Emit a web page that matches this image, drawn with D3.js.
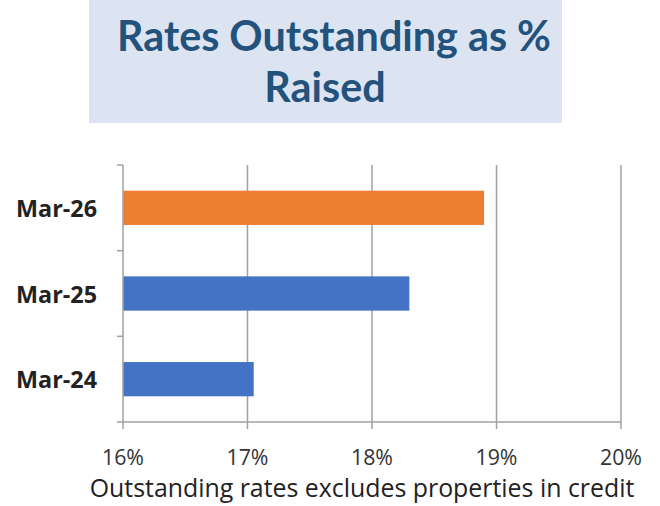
<!DOCTYPE html>
<html><head><meta charset="utf-8">
<script src="https://cdn.jsdelivr.net/npm/d3@7"></script>
<style>body{margin:0;background:#fff}</style>
</head><body>
<svg id="c" width="660" height="506"></svg>
<script>
const categories = ["Mar-26", "Mar-25", "Mar-24"];
const values = [18.9, 18.3, 17.05];
const barColors = ["#ed7d31", "#4472c4", "#4472c4"];
const xTicks = [16, 17, 18, 19, 20];
const titleLines = ["Rates Outstanding as %", "Raised"];
const footnote = "Outstanding rates excludes properties in credit";

const svg = d3.select("#c");
const font = "'Open Sans', Lato, sans-serif";
const titleFont = "Lato, 'Open Sans', sans-serif";
const m = {left: 123, right: 621, top: 165, bottom: 422};

// fit font size of a text element to a target width
function fit(sel, target) {
  sel.each(function() {
    const w = this.getComputedTextLength();
    const fs = parseFloat(this.getAttribute("font-size"));
    this.setAttribute("font-size", (fs * target / w).toFixed(2));
  });
}

// title box
svg.append("rect").attr("x", 89).attr("y", 0).attr("width", 473).attr("height", 123).attr("fill", "#dce4f2");
const t = svg.selectAll("text.title").data(titleLines).join("text")
  .attr("class", "title")
  .attr("x", 334).attr("y", (d, i) => 51 + i * 51)
  .attr("text-anchor", "middle")
  .attr("font-family", titleFont).attr("font-weight", "bold").attr("font-size", 38)
  .attr("fill", "#23527c").text(d => d);
fit(t.filter((d, i) => i === 0), 434);
t.filter((d, i) => i === 1).attr("font-size", t.filter((d, i) => i === 0).attr("font-size")).attr("x", 325);

const x = d3.scaleLinear().domain([16, 20]).range([m.left, m.right]);
const y = d3.scaleBand().domain(categories).range([m.top, m.bottom]).paddingInner(0.6).paddingOuter(0.3);
const yb = d3.scaleBand().domain(categories).range([m.top, m.bottom]);

// gridlines
svg.append("g").selectAll("line").data(xTicks.slice(1)).join("line")
  .attr("x1", d => x(d)).attr("x2", d => x(d))
  .attr("y1", m.top).attr("y2", m.bottom)
  .attr("stroke", "#a0a0a0").attr("stroke-width", 1.5);

// bars
svg.append("g").selectAll("rect").data(categories).join("rect")
  .attr("x", x(16)).attr("y", d => y(d))
  .attr("width", (d, i) => x(values[i]) - x(16))
  .attr("height", y.bandwidth())
  .attr("fill", (d, i) => barColors[i]);

// left axis
const axisColor = "#a0a0a0";
svg.append("line").attr("x1", x(16)).attr("x2", x(16)).attr("y1", m.top).attr("y2", m.bottom)
  .attr("stroke", axisColor).attr("stroke-width", 1.5);
const bounds = categories.map(c => yb(c)).concat([m.bottom]);
svg.append("g").selectAll("line").data(bounds).join("line")
  .attr("x1", x(16) - 6).attr("x2", x(16)).attr("y1", d => d).attr("y2", d => d)
  .attr("stroke", axisColor).attr("stroke-width", 1.5);
const yl = svg.append("g").selectAll("text").data(categories).join("text")
  .attr("x", 97).attr("y", d => yb(d) + yb.bandwidth() / 2 + 9)
  .attr("text-anchor", "end")
  .attr("font-family", font).attr("font-weight", "bold").attr("font-size", 20)
  .attr("fill", "#222").text(d => d);
fit(yl, 81);

// bottom axis
svg.append("line").attr("x1", x(16)).attr("x2", x(20)).attr("y1", m.bottom).attr("y2", m.bottom)
  .attr("stroke", axisColor).attr("stroke-width", 1.5);
svg.append("g").selectAll("line").data(xTicks).join("line")
  .attr("x1", d => x(d)).attr("x2", d => x(d)).attr("y1", m.bottom).attr("y2", m.bottom + 7)
  .attr("stroke", axisColor).attr("stroke-width", 1.5);
const xl = svg.append("g").selectAll("text").data(xTicks).join("text")
  .attr("x", d => x(d)).attr("y", 465)
  .attr("text-anchor", "middle")
  .attr("font-family", font).attr("font-size", 19)
  .attr("fill", "#333").text(d => d + "%");
fit(xl, 42);

const fn = svg.append("text").attr("x", 362).attr("y", 497).attr("text-anchor", "middle")
  .attr("font-family", font).attr("font-size", 20).attr("fill", "#222").text(footnote);
fit(fn, 545);
</script>
</body></html>
